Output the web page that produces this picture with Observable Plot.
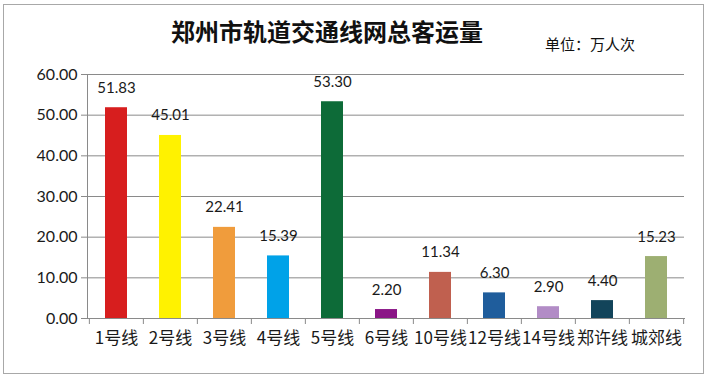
<!DOCTYPE html>
<html><head><meta charset="utf-8">
<script src="https://cdn.jsdelivr.net/npm/d3@7"></script>
<script src="https://cdn.jsdelivr.net/npm/@observablehq/plot@0.6"></script>
<style>
body{margin:0;background:#fff;}
#wrap{position:relative;width:710px;height:378px;overflow:hidden;}
#frame{position:absolute;left:3px;top:4px;width:701px;height:370px;border:1px solid #a8a8a8;box-sizing:border-box;pointer-events:none;}
#title{position:absolute;left:171px;top:18px;font:bold 24px/26px "Noto Sans CJK SC";color:#111;white-space:nowrap;}
#sub{position:absolute;left:545px;top:35px;font:15px/18px "Noto Sans CJK SC";color:#111;white-space:nowrap;}
#chart{position:absolute;left:0;top:0;}
</style></head>
<body>
<div id="wrap">
  <div id="chart"></div>
  <div id="title">郑州市轨道交通线网总客运量</div>
  <div id="sub">单位：万人次</div>
  <div id="frame"></div>
</div>
<script>
const lines = ["1号线","2号线","3号线","4号线","5号线","6号线","10号线","12号线","14号线","郑许线","城郊线"];
const values = [51.83,45.01,22.41,15.39,53.30,2.20,11.34,6.30,2.90,4.40,15.23];
const colors = ["#d71e1e","#fff200","#f09c3c","#00a2e8","#0d6b38","#8a1586","#c0604f","#1f5d9c","#b28cc6","#12445a","#9daf72"];
const yTicks = [0,10,20,30,40,50,60];

const data = lines.map((l,i)=>({line:l, value:values[i], color:colors[i]}));
const W = 710, ML = 87, MR = 26;
const step = (W - ML - MR) / lines.length;
const grey = "#8a8a8a";

const chart = Plot.plot({
  width: W, height: 378,
  marginTop: 74, marginBottom: 60, marginLeft: ML, marginRight: MR,
  style: {background: "transparent", fontFamily: "Lato, 'Noto Sans CJK SC'", fontSize: "15px", color: "#1a1a1a"},
  x: {domain: lines, paddingInner: 0.6, paddingOuter: 0.3, label: null, axis: null},
  y: {domain: [0, 60], label: null, axis: null},
  color: {type: "identity"},
  marks: [
    Plot.gridY(yTicks.slice(1), {stroke: grey, strokeOpacity: 1}),
    Plot.axisY(yTicks, {tickFormat: d3.format(".2f"), tickSize: 6, tickPadding: 4, stroke: grey, fill: "#1a1a1a", fontSize: 16, label: null}),
    Plot.frame({anchor: "left", stroke: grey}),
    Plot.frame({anchor: "bottom", stroke: grey}),
    Plot.axisX({tickSize: 6, tickFormat: () => "", dx: -step/2, stroke: grey, label: null}),
    Plot.axisX([lines[lines.length-1]], {tickSize: 6, tickFormat: () => "", dx: step/2, stroke: grey, label: null}),
    Plot.axisX({tickSize: 0, tickPadding: 13, fontFamily: "'Noto Sans CJK SC'", fontSize: 17, fill: "#1a1a1a", label: null}),
    Plot.barY(data, {x: "line", y: "value", fill: "color"}),
    Plot.text(data, {x: "line", y: "value", text: d => d3.format(".2f")(d.value), lineAnchor: "bottom", dy: -15, fontSize: 15, fill: "#1a1a1a"})
  ]
});
document.getElementById("chart").appendChild(chart);
</script>
</body></html>
